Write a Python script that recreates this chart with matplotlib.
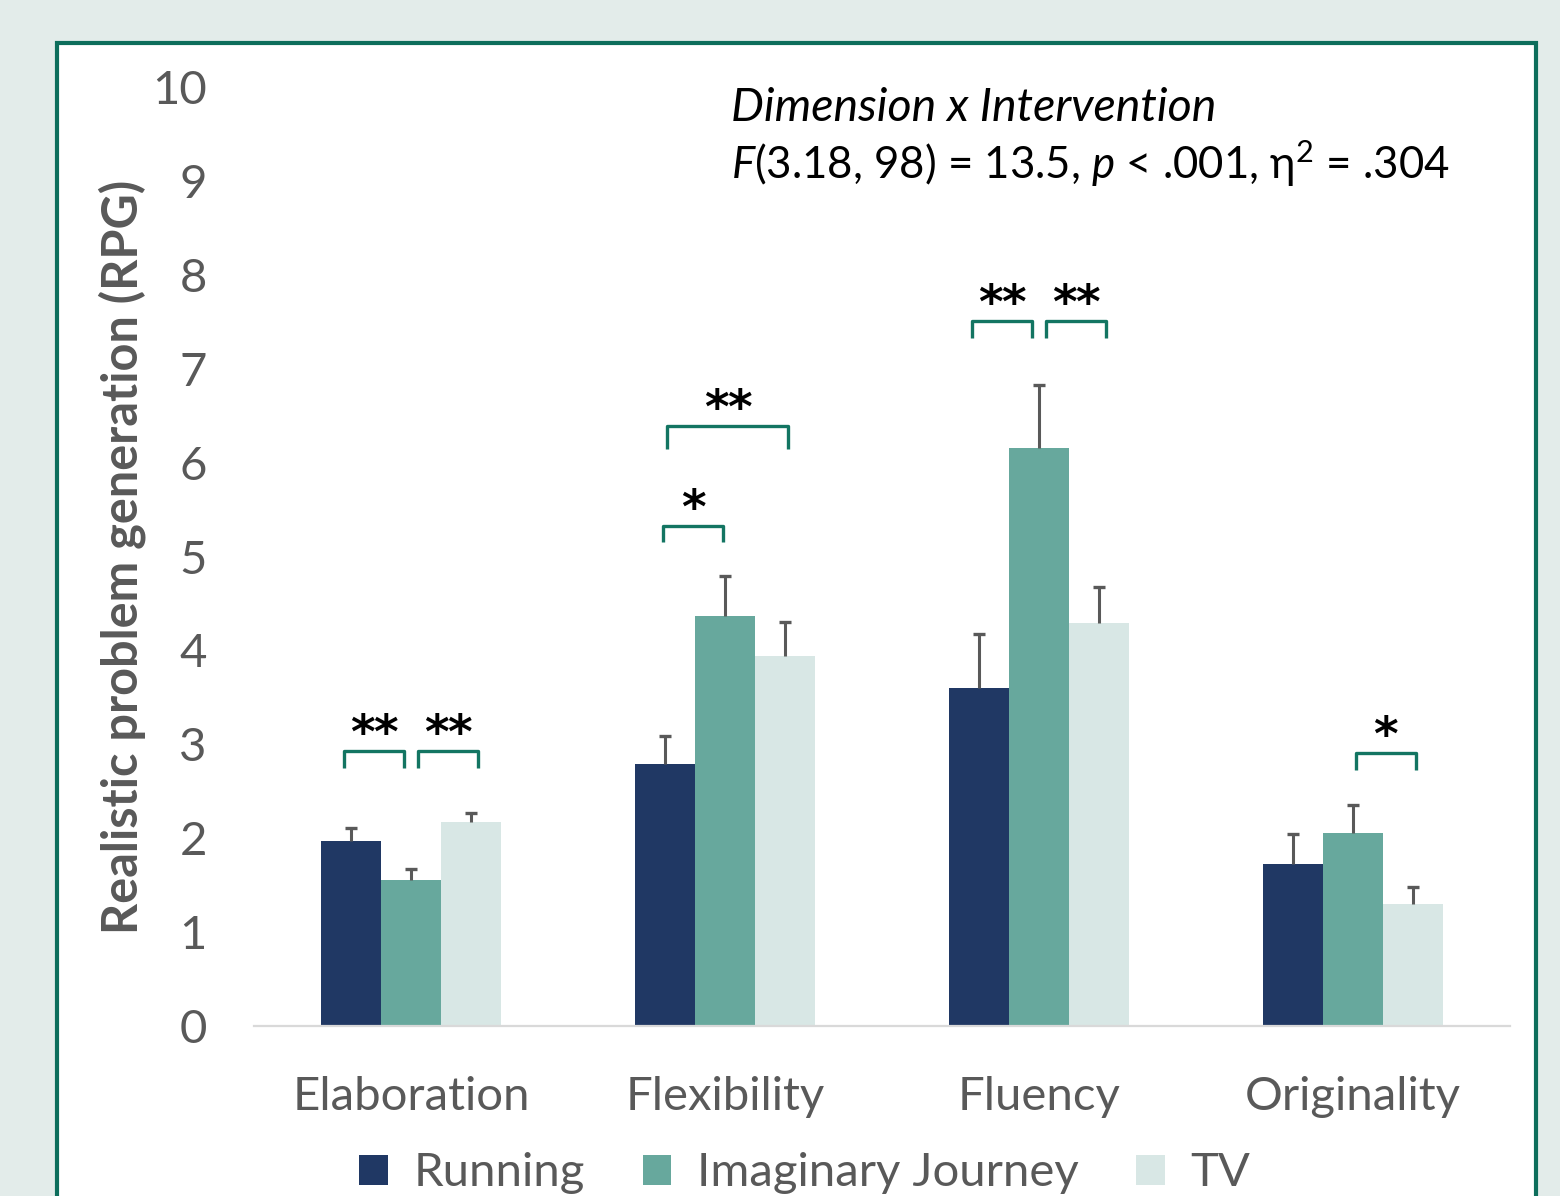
import numpy as np
import matplotlib.pyplot as plt
from matplotlib.patches import Rectangle, Patch

plt.rcParams['font.family'] = ['Lato', 'DejaVu Sans']
plt.rcParams['mathtext.fontset'] = 'custom'
plt.rcParams['mathtext.rm'] = 'Lato'
plt.rcParams['mathtext.it'] = 'Lato:italic'

# Mean RPG scores and upper error bars per dimension
dimensions = ['Elaboration', 'Flexibility', 'Fluency', 'Originality']
interventions = ['Running', 'Imaginary Journey', 'TV']
running = [1.97, 2.79, 3.60, 1.73]
running_err = [0.14, 0.30, 0.57, 0.32]
journey = [1.55, 4.37, 6.16, 2.06]
journey_err = [0.12, 0.42, 0.67, 0.29]
tv = [2.17, 3.94, 4.29, 1.30]
tv_err = [0.10, 0.36, 0.38, 0.18]

# Significant pairwise contrasts: (dimension, bar a, bar b, level, stars)
contrasts = [
    (0, 0, 1, 2.93, '**'),
    (0, 1, 2, 2.93, '**'),
    (1, 0, 1, 5.33, '*'),
    (1, 0, 2, 6.39, '**'),
    (2, 0, 1, 7.51, '**'),
    (2, 1, 2, 7.51, '**'),
    (3, 1, 2, 2.91, '*'),
]

colors = ['#203864', '#67a89d', '#d8e7e5']
grey = '#595959'
teal = '#137562'

fig = plt.figure(figsize=(15.6, 11.96), dpi=100, facecolor='#e3ecea')

# white panel with a teal border
panel = Rectangle((57 / 1560, -0.05), (1536 - 57) / 1560, 1.05 - 43 / 1196,
                  transform=fig.transFigure, facecolor='white',
                  edgecolor='#0d6e5c', linewidth=3, zorder=-5)
fig.patches.append(panel)

ax = fig.add_axes([254 / 1560, 170 / 1196, 1256 / 1560, 939 / 1196], zorder=2)
ax.set_facecolor('none')

x = np.arange(len(dimensions))
w = 0.192
series = [(running, running_err), (journey, journey_err), (tv, tv_err)]
for i, (vals, errs) in enumerate(series):
    pos = x + (i - 1) * w
    vals = np.asarray(vals)
    tops = vals + np.asarray(errs)
    ax.bar(pos, vals, width=w, color=colors[i], label=interventions[i], zorder=2)
    # upper-only error bars
    ax.vlines(pos, vals, tops, color=grey, lw=2.2, zorder=3)
    ax.plot(pos, tops, ls='none', marker='_', ms=9, mew=2.4, color=grey, zorder=3)

# brackets with stars above
shared = {}
for d, a, b, lvl, lab in contrasts:
    shared.setdefault((d, lvl), []).append((a, b))
for d, a, b, lvl, lab in contrasts:
    x0 = x[d] + (a - 1) * w
    x1 = x[d] + (b - 1) * w
    if len(shared[(d, lvl)]) > 1:
        shift = -0.022 if a == 0 else 0.022
    else:
        shift = 0.008 if b == 2 else -0.005
    x0 += shift
    x1 += shift
    leg = 0.18 if b - a == 1 else 0.24
    ax.plot([x0, x0, x1, x1], [lvl - leg, lvl, lvl, lvl - leg], color=teal,
            lw=2.4, solid_joinstyle='round', solid_capstyle='butt', zorder=3)
    mid = (x0 + x1) / 2
    offsets = (np.arange(len(lab)) - (len(lab) - 1) / 2) * 0.074
    for off in offsets:
        ax.text(mid + off, lvl + 0.03, '*', ha='center', va='baseline',
                fontsize=34, fontweight='bold', family='DejaVu Sans',
                color='black')

ax.set_xlim(-0.5, 3.5)
ax.set_ylim(0, 10)
ax.set_yticks(range(0, 11))
ax.set_xticks(x)
ax.set_xticklabels(dimensions)
ax.tick_params(axis='y', length=0, pad=34, labelsize=34, labelcolor=grey)
ax.tick_params(axis='x', length=0, pad=36, labelsize=34, labelcolor=grey)
for side in ['top', 'right', 'left']:
    ax.spines[side].set_visible(False)
ax.spines['bottom'].set_color('#d9d9d9')
ax.spines['bottom'].set_linewidth(1.6)

ax.text(-0.105, 0.5, 'Realistic problem generation (RPG)', transform=ax.transAxes,
        rotation=90, ha='center', va='center', fontsize=35, fontweight='bold',
        color=grey)

ax.text(1.02, 9.64, 'Dimension x Intervention', fontsize=33.5, style='italic',
        color='black', va='baseline')
ax.text(1.02, 9.02, r'$F$(3.18, 98) = 13.5, $p$ < .001, η$^2$ = .304',
        fontsize=31.5, color='black', va='baseline')

handles = [Patch(facecolor=c) for c in colors]
fig.legend(handles, interventions, loc='center', bbox_to_anchor=(0.516, 0.019),
           ncol=3, frameon=False, fontsize=34, labelcolor=grey,
           handlelength=0.6, handleheight=0.6, handletextpad=0.55,
           columnspacing=1.22)

fig.savefig('out.png', dpi=100, facecolor=fig.get_facecolor())
